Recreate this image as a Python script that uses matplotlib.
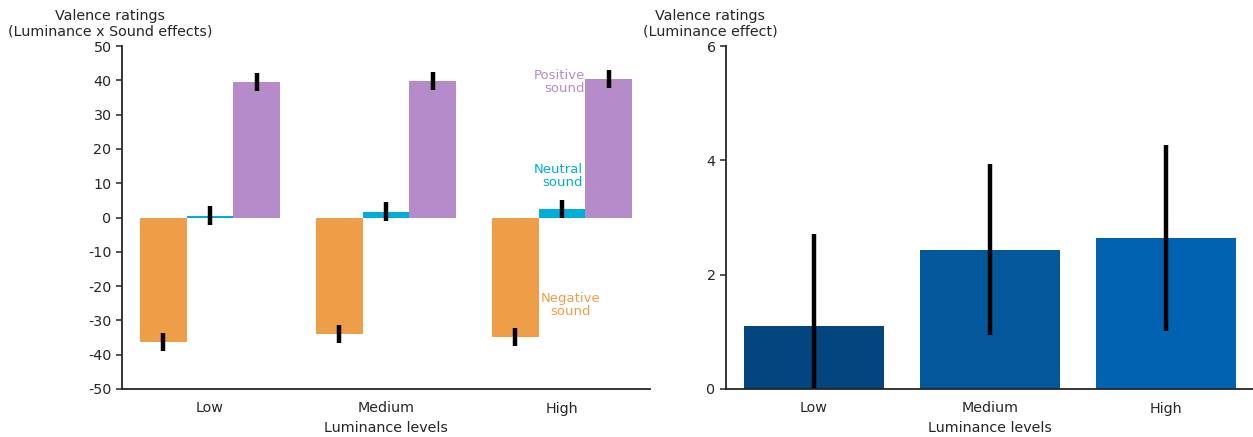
import matplotlib.pyplot as plt
import numpy as np

plt.rcParams["axes.unicode_minus"] = False
plt.rcParams["text.color"] = "#262626"
plt.rcParams["xtick.color"] = "#262626"
plt.rcParams["ytick.color"] = "#262626"
plt.rcParams["axes.labelcolor"] = "#262626"
plt.rcParams["axes.edgecolor"] = "#262626"

levels = ["Low", "Medium", "High"]

# valence by luminance x sound
negative = [-36.3, -34.0, -34.8]
negative_err = [2.5, 2.7, 2.7]
neutral = [0.5, 1.7, 2.5]
neutral_err = [2.8, 2.7, 2.7]
positive = [39.5, 39.8, 40.4]
positive_err = [2.5, 2.5, 2.5]

# luminance main effect
lum_effect = [1.1, 2.44, 2.64]
lum_err = [1.62, 1.5, 1.63]

c_neg = "#ef9e48"
c_neu = "#00aedb"
c_pos = "#b58bca"
c_lum = ["#03467f", "#02589a", "#0062b0"]

fig = plt.figure(figsize=(12.53, 4.37), dpi=100)
ax1 = fig.add_axes([122/1253, 1-389/437, 528/1253, 343/437])
ax2 = fig.add_axes([726/1253, 1-389/437, 528/1253, 343/437])

x = np.arange(len(levels))
w = 0.267
ekw = dict(elinewidth=3.2, capsize=0, ecolor="black")
ax1.bar(x - w, negative, w, yerr=negative_err, color=c_neg, error_kw=ekw)
ax1.bar(x, neutral, w, yerr=neutral_err, color=c_neu, error_kw=ekw)
ax1.bar(x + w, positive, w, yerr=positive_err, color=c_pos, error_kw=ekw)
ax1.set_xlim(-0.5, 2.5)
ax1.set_ylim(-50, 50)
ax1.set_yticks(np.arange(-50, 51, 10))
ax1.set_xticks(x)
ax1.set_xticklabels(levels)
ax1.set_xlabel("Luminance levels", fontsize=10.3, labelpad=4)
ax1.text(-0.023, 1.022, "Valence ratings\n(Luminance x Sound effects)", transform=ax1.transAxes,
         ha="center", va="bottom", fontsize=10.3, linespacing=1.1)
ax1.text(2.13, 39.5, "Positive\nsound", color=c_pos, ha="right", va="center",
         fontsize=9.5, linespacing=1.0, multialignment="right")
ax1.text(2.12, 12, "Neutral\nsound", color=c_neu, ha="right", va="center",
         fontsize=9.5, linespacing=1.0, multialignment="right")
ax1.text(2.05, -25.4, "Negative\nsound", color=c_neg, ha="center", va="center",
         fontsize=9.5, linespacing=1.0)

ax2.bar(x, lum_effect, 0.8, yerr=lum_err, color=c_lum, error_kw=ekw)
ax2.set_xlim(-0.5, 2.5)
ax2.set_ylim(0, 6)
ax2.set_yticks([0, 2, 4, 6])
ax2.set_xticks(x)
ax2.set_xticklabels(levels)
ax2.set_xlabel("Luminance levels", fontsize=10.3, labelpad=4)
ax2.text(-0.03, 1.022, "Valence ratings\n(Luminance effect)", transform=ax2.transAxes,
         ha="center", va="bottom", fontsize=10.3, linespacing=1.1)

for ax in (ax1, ax2):
    ax.spines["top"].set_visible(False)
    ax.spines["right"].set_visible(False)
    ax.spines["left"].set_linewidth(1.3)
    ax.spines["bottom"].set_linewidth(1.3)
    ax.tick_params(axis="x", length=0, pad=9, labelsize=10.3)
    ax.tick_params(axis="y", length=4, width=1.1, labelsize=10.3)

fig.savefig("out.png", dpi=100)
